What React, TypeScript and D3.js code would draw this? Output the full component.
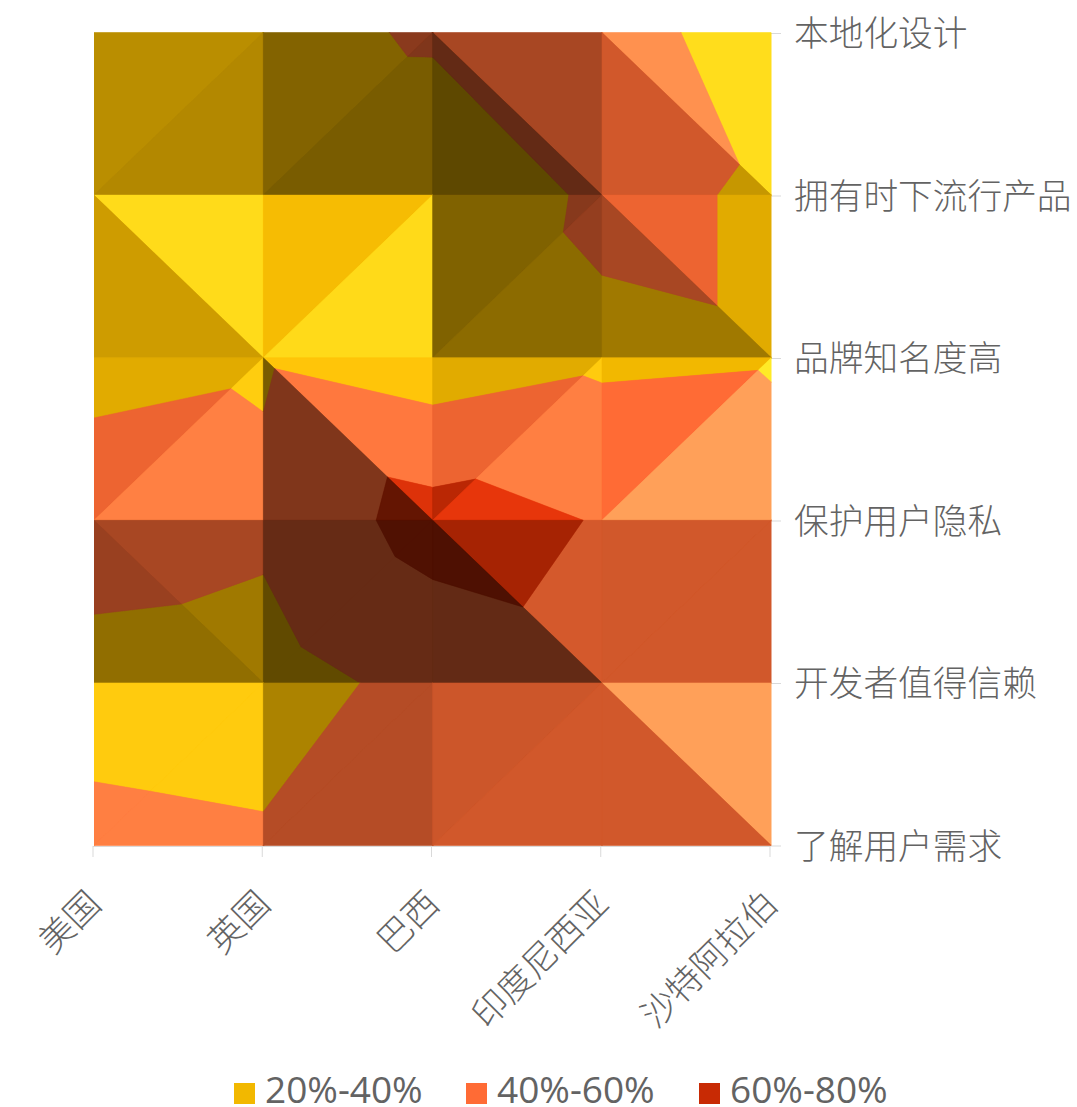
import React, { useMemo } from "react";
import * as d3 from "d3";

// Survey shares (%) by country and purchase factor.
const countries = ["美国", "英国", "巴西", "印度尼西亚", "沙特阿拉伯"];
const factors = ["本地化设计", "拥有时下流行产品", "品牌知名度高", "保护用户隐私", "开发者值得信赖", "了解用户需求"];

const localDesign = [35, 32.7, 42.5, 46.9, 32.1];
const trendyProducts = [30, 25.6, 26, 43.4, 38.4];
const brandAwareness = [35, 38, 28.5, 36.5, 38.4];
const userPrivacy = [48.5, 44, 68, 59, 49];
const developerTrust = [33.8, 32, 46, 53, 52];
const knowsUsers = [44, 42.1, 47, 50, 52];
const seriesValues = [localDesign, trendyProducts, brandAwareness, userPrivacy, developerTrust, knowsUsers];

const bandEdges = [20, 40, 60, 80];
const bandLabels = ["20%-40%", "40%-60%", "60%-80%"];
const bandColors = ["#f2b800", "#ff6b35", "#c82a04"];

// How each grid cell is cut into two facets: "/" or "\\".
const cellSplit = [
  ["/", "/", "\\", "\\"],
  ["\\", "/", "/", "\\"],
  ["/", "\\", "/", "/"],
  ["\\", "/", "\\", "/"],
  ["/", "/", "/", "\\"],
];

// Lighting of the two facets in each cell (1 = legend colour).
const facetLight = [
  [[0.77, 0.74], [0.54, 0.5], [0.66, 0.39], [1.3, 0.82]],
  [[1.28, 0.85], [1.03, 1.27], [0.53, 0.58], [0.93, 0.66]],
  [[0.93, 1.16], [1.1, 0.5], [0.93, 1.15], [1.0, 1.42]],
  [[0.66, 0.6], [0.4, 0.4], [0.83, 0.39], [0.82, 0.82]],
  [[1.15, 1.15], [0.71, 0.71], [0.8, 0.82], [1.42, 0.82]],
];

const axisBox = { left: 93, right: 770, top: 33.5, bottom: 846 };
const surfaceBox = { left: 94, right: 771.3, top: 32.5, bottom: 845.5 };

type Vertex = { x: number; y: number; v: number };

// Keep the part of a polygon on one side of a value level.
function clipAtLevel(poly: Vertex[], level: number, keepAbove: boolean): Vertex[] {
  const inside = (p: Vertex) => (keepAbove ? p.v >= level : p.v <= level);
  const out: Vertex[] = [];
  poly.forEach((p, i) => {
    const q = poly[(i + 1) % poly.length];
    if (inside(p)) out.push(p);
    if (inside(p) !== inside(q)) {
      const t = (level - p.v) / (q.v - p.v);
      out.push({ x: p.x + t * (q.x - p.x), y: p.y + t * (q.y - p.y), v: level });
    }
  });
  return out;
}

// Darken or brighten a band colour by a facet's light value.
// The yellow band is already near full brightness, so its highlights rise more slowly.
function litColor(band: number, s: number): string {
  const c = d3.rgb(bandColors[band]);
  const gain = s > 1 && band === 0 ? 1 + (s - 1) * 0.6 : s;
  const mixWhite = s > 1 ? (s - 1) * (band === 0 ? 0.36 : 0.18) : 0;
  const ch = (n: number) => {
    const scaled = Math.min(255, n * gain);
    return scaled + (255 - scaled) * mixWhite;
  };
  return d3.rgb(ch(c.r), ch(c.g), ch(c.b)).formatHex();
}

const textColor = "#636363";
const axisColor = "#d9d9d9";
const fontStack = "'Noto Sans CJK SC', 'Noto Sans', sans-serif";

export default function App() {
  const xAxis = d3.scalePoint<number>().domain(d3.range(countries.length)).range([axisBox.left, axisBox.right]);
  const yAxis = d3.scalePoint<number>().domain(d3.range(factors.length)).range([axisBox.top, axisBox.bottom]);
  const xSurface = xAxis.copy().range([surfaceBox.left, surfaceBox.right]);
  const ySurface = yAxis.copy().range([surfaceBox.top, surfaceBox.bottom]);

  const facets = useMemo(() => {
    const vertex = (r: number, c: number): Vertex => ({ x: xSurface(c)!, y: ySurface(r)!, v: seriesValues[r][c] });
    const line = d3.line<Vertex>().x((d) => d.x).y((d) => d.y);
    const out: { d: string; fill: string }[] = [];
    cellSplit.forEach((row, r) =>
      row.forEach((split, c) => {
        const tl = vertex(r, c);
        const tr = vertex(r, c + 1);
        const bl = vertex(r + 1, c);
        const br = vertex(r + 1, c + 1);
        const tris = split === "/" ? [[tl, tr, bl], [tr, br, bl]] : [[tl, tr, br], [tl, br, bl]];
        tris.forEach((tri, k) => {
          bandColors.forEach((_, b) => {
            const part = clipAtLevel(clipAtLevel(tri, bandEdges[b], true), bandEdges[b + 1], false);
            if (part.length < 3) return;
            out.push({ d: line(part)! + "Z", fill: litColor(b, facetLight[r][c][k]) });
          });
        });
      })
    );
    return out;
  }, []);

  const legendX = [234, 466, 699];

  return (
    <svg
      width={1077}
      height={1107}
      style={{ position: "absolute", left: 0, top: 0, background: "#fff" }}
      fontFamily={fontStack}
    >
      {/* category axis */}
      <line x1={axisBox.left} x2={axisBox.right} y1={axisBox.bottom + 0.5} y2={axisBox.bottom + 0.5} stroke={axisColor} />
      {countries.map((name, i) => (
        <g key={name}>
          <line x1={xAxis(i)} x2={xAxis(i)} y1={axisBox.bottom} y2={axisBox.bottom + 11} stroke={axisColor} />
          <text
            transform={`translate(${xAxis(i)! + 10},${axisBox.bottom + 60}) rotate(-45)`}
            textAnchor="end"
            fontSize={35}
            fontWeight={300}
            fill={textColor}
          >
            {name}
          </text>
        </g>
      ))}

      {/* factor axis */}
      <line x1={axisBox.right + 0.5} x2={axisBox.right + 0.5} y1={axisBox.top} y2={axisBox.bottom} stroke={axisColor} />
      {factors.map((name, i) => (
        <g key={name}>
          <line x1={axisBox.right} x2={axisBox.right + 11} y1={yAxis(i)} y2={yAxis(i)} stroke={axisColor} />
          <text x={794} y={yAxis(i)! + 12.5} fontSize={34.7} fontWeight={300} fill={textColor}>
            {name}
          </text>
        </g>
      ))}

      {/* two passes so that neighbouring facets leave no pale seams */}
      <clipPath id="surface-area">
        <rect
          x={surfaceBox.left}
          y={surfaceBox.top}
          width={surfaceBox.right - surfaceBox.left}
          height={surfaceBox.bottom - surfaceBox.top}
        />
      </clipPath>
      <g clipPath="url(#surface-area)">
        {facets.map((f, i) => (
          <path key={i} d={f.d} fill={f.fill} stroke={f.fill} strokeWidth={1.6} strokeLinejoin="round" />
        ))}
        {facets.map((f, i) => (
          <path key={i} d={f.d} fill={f.fill} stroke={f.fill} strokeWidth={0.5} strokeLinejoin="round" />
        ))}
      </g>

      {/* legend */}
      {bandLabels.map((label, i) => (
        <g key={label}>
          <rect x={legendX[i]} y={1083} width={21} height={21} fill={bandColors[i]} />
          <text x={legendX[i] + 31} y={1103} fontSize={37} fontFamily="'Open Sans', sans-serif" fill={textColor}>
            {label}
          </text>
        </g>
      ))}
    </svg>
  );
}
